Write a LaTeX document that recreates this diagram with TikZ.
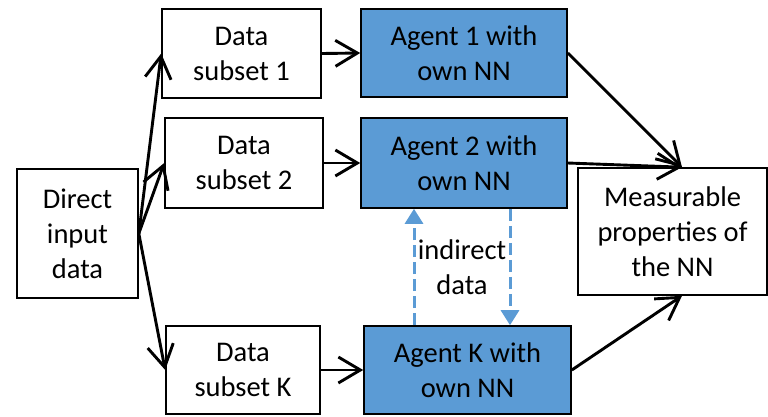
\documentclass[tikz,border=0pt]{standalone}
\usepackage{fontspec}
\setmainfont{Carlito}
\usetikzlibrary{arrows.meta}
\definecolor{agentblue}{HTML}{5B9BD5}
\begin{document}
\begin{tikzpicture}[x=1pt,y=-1pt,
  box/.style={draw=black,line width=1.6pt,align=center,inner sep=0pt,
    font=\fontsize{28.5}{35}\selectfont},
  agent/.style={box,fill=agentblue},
  flow/.style={line width=2.9pt,-{Straight Barb[length=22pt,width=26pt,line width=2.9pt]}},
  dasharrow/.style={draw=agentblue,line width=3pt,dash pattern=on 12pt off 5pt,
    -{Triangle[length=15pt,width=18pt]}},
  lbl/.style={align=center,inner sep=0pt,font=\fontsize{28.5}{35}\selectfont}]
\useasboundingbox (0,0) rectangle (768,416);
\node[box,minimum width=121pt,minimum height=129pt] (direct) at (77.5,233.5) {Direct\\input\\data};
\node[box,minimum width=159pt,minimum height=89pt] (s1) at (241.5,53.5) {Data\\subset 1};
\node[box,minimum width=158pt,minimum height=90pt] (s2) at (244,163) {Data\\subset 2};
\node[box,minimum width=154pt,minimum height=88pt] (sK) at (243,370) {Data\\subset K};
\node[agent,minimum width=206pt,minimum height=88pt] (a1) at (464,53) {Agent 1 with\\own NN};
\node[agent,minimum width=206pt,minimum height=90pt] (a2) at (464,163) {Agent 2 with\\own NN};
\node[agent,minimum width=207pt,minimum height=88pt] (aK) at (467.5,370) {Agent K with\\own NN};
\node[box,minimum width=189pt,minimum height=127pt] (m) at (672.5,231.5) {Measurable\\properties of\\the NN};
\node[lbl] (ind) at (462,267) {indirect\\data};
\draw[flow] (direct.east) -- (s1.west);
\draw[flow] (direct.east) -- (s2.west);
\draw[flow] (direct.east) -- (sK.west);
\draw[flow] (s1.east) -- (a1.west);
\draw[flow] (s2.east) -- (a2.west);
\draw[flow] (sK.east) -- (aK.west);
\draw[flow] (a1.east) -- ([xshift=9.5pt]m.north);
\draw[flow] (a2.east) -- ([xshift=9.5pt]m.north);
\draw[flow] (aK.east) -- ([xshift=9.5pt]m.south);
\draw[dasharrow] ([xshift=-53.5pt]aK.north) -- ([xshift=-53.5pt]aK.north |- a2.south);
\draw[dasharrow] ([xshift=46pt]a2.south) -- ([xshift=46pt]a2.south |- aK.north);
\end{tikzpicture}
\end{document}
